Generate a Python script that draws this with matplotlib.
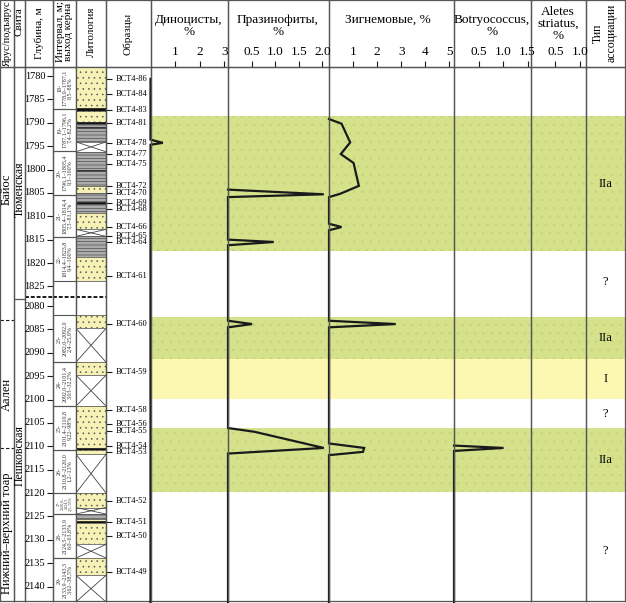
import numpy as np
import matplotlib
matplotlib.use("Agg")
import matplotlib.pyplot as plt
from matplotlib.patches import Rectangle

plt.rcParams['font.family'] = ['Liberation Serif', 'DejaVu Serif']
plt.rcParams['hatch.linewidth'] = 0.4

# ---- data ----
depth_ticks = [1780, 1785, 1790, 1795, 1800, 1805, 1810, 1815, 1820, 1825,
               2080, 2085, 2090, 2095, 2100, 2105, 2110, 2115, 2120, 2125,
               2130, 2135, 2140]

sample_names = ["ВСТ4-86", "ВСТ4-84", "ВСТ4-83", "ВСТ4-81", "ВСТ4-78", "ВСТ4-77",
                "ВСТ4-75", "ВСТ4-72", "ВСТ4-70", "ВСТ4-69", "ВСТ4-68", "ВСТ4-66",
                "ВСТ4-65", "ВСТ4-64", "ВСТ4-61", "ВСТ4-60", "ВСТ4-59", "ВСТ4-58",
                "ВСТ4-56", "ВСТ4-55", "ВСТ4-54", "ВСТ4-53", "ВСТ4-52", "ВСТ4-51",
                "ВСТ4-50", "ВСТ4-49"]
sample_depths = [1780.6, 1783.8, 1787.2, 1790.0, 1794.3, 1796.6, 1798.8, 1803.5,
                 1805.0, 1807.1, 1808.4, 1812.4, 1814.3, 1815.6, 1822.7, 2083.9,
                 2094.2, 2102.3, 2105.3, 2106.8, 2110.0, 2111.3, 2121.7, 2126.1,
                 2129.1, 2136.8]

int_tops = [1778.0, 1787.1, 1796.1, 1805.4, 1814.4, 2082.0, 2092.0, 2101.4,
            2110.8, 2120.0, 2124.5, 2133.9]
int_bots = [1787.1, 1796.1, 1805.4, 1814.4, 1823.8, 2092.0, 2101.4, 2110.8,
            2120.0, 2124.5, 2133.9, 2143.3]
int_labels = ["18-\n1778,0–1787,1\n8,5–88%", "19-\n1787,1–1796,1\n7,4–82,2%",
              "20-\n1796,1–1805,4\n9,3–100%", "21-\n1805,4–1814,4\n7,3–81,1%",
              "22-\n1814,4–1823,8\n9,4–100%", "23-\n2082,0–2092,0\n2,4–25,9%",
              "24-\n2092,0–2101,4\n3,03–32,2%", "25-\n2101,4–2110,8\n9,22–98%",
              "26-\n2110,8–2120,0\n1,2–13%", "27-\n2120,0–\n2124,5\n2,5–56%",
              "28-\n2124,5–2133,9\n6,0–63,8%", "29-\n2133,9–2143,3\n3,62–38,5%"]

lith_tops = [1778.0, 1786.8, 1787.4, 1789.8, 1790.3, 1790.8, 1791.1, 1794.1,
             1796.2, 1800.0, 1800.4, 1803.6, 1805.0, 1807.0, 1807.3, 1809.2,
             1812.8, 1814.3, 1818.8,
             2082.0, 2084.8, 2092.0, 2094.8, 2101.4, 2110.3, 2110.8, 2111.7,
             2120.0, 2123.1, 2124.5, 2125.5, 2126.0, 2126.5, 2131.0, 2133.9, 2137.6]
lith_bots = lith_tops[1:19] + [1823.8] + lith_tops[20:] + [2143.3]
lith_kinds = ["sand", "coal", "sand", "coal", "silt", "coal", "silt", "nocore",
              "silt", "coal", "silt", "sand", "silt", "coal", "silt", "sand",
              "nocore", "silt", "sand",
              "sand", "nocore", "sand", "nocore", "sand", "coal", "sand", "nocore",
              "sand", "nocore", "silt", "sand", "coal", "sand", "nocore", "sand", "nocore"]

dino_d = [1780.6, 1793.6, 1794.3, 1794.7, 2143.3]
dino_v = [0, 0, 0.5, 0, 0]
pras_d = [1804.3, 1805.3, 1805.9, 1815.0, 1815.5, 1816.2, 2083.15, 2083.86,
          2084.56, 2106.1, 2106.9, 2110.36, 2111.56, 2143.3]
pras_v = [0, 2.03, 0, 0, 0.97, 0, 0, 0.51, 0, 0, 0.56, 2.03, 0, 0]
zyg_d = [1789.2, 1790.2, 1794.2, 1796.7, 1798.6, 1803.5, 1805.2, 1805.9, 1811.6,
         1812.3, 1813.0, 2083.15, 2083.86, 2084.56, 2109.4, 2110.36, 2111.2,
         2111.9, 2143.3]
zyg_v = [0, 0.52, 0.88, 0.49, 1.02, 1.24, 0.46, 0, 0, 0.52, 0, 0, 2.77, 0, 0,
         1.46, 1.41, 0, 0]
botr_d = [2109.85, 2110.36, 2111.0, 2143.3]
botr_v = [0, 1.01, 0, 0]
alet_d = []
alet_v = []

zone_tops = [1788.5, 2082.3, 2091.4, 2106.1]
zone_bots = [1817.5, 2091.4, 2099.9, 2119.8]
zone_kinds = ["IIa", "IIa", "I", "IIa"]
type_labels = ["IIa", "?", "IIa", "I", "?", "IIa", "?"]
type_depths = [1803.0, 1824.0, 2086.9, 2095.7, 2103.0, 2113.0, 2132.5]

stage_names = ["Байос", "Аален", "Нижний–верхний тоар"]
stage_mid = [1804.3, 2098.9, 2128.6]
stage_bounds = [2083.0, 2110.4]
suite_names = ["Тюменская", "Пешковская"]
suite_mid = [1804.3, 2112.0]

# ---- layout ----
W, H = 626, 603
TOP, BOT = 67, 601
OFFSET = 250.8
P_TOP, P_BOT = 1778.07, 1892.3
BREAK = 1827.3
LINE = '#555555'
INK = '#1a1a1a'


def to_p(d):
    d = np.asarray(d, float)
    return np.where(d > 1950, d - OFFSET, d)


fig = plt.figure(figsize=(W / 100, H / 100), dpi=100)


def frame(ax):
    ax.set_xticks([])
    ax.set_yticks([])
    for s in ax.spines.values():
        s.set_color(LINE)
        s.set_linewidth(0.9)


def body_ax(x0, x1, xlim=(0, 1), z=1):
    ax = fig.add_axes([x0 / W, 1 - BOT / H, (x1 - x0) / W, (BOT - TOP) / H], zorder=z)
    ax.set_xlim(*xlim)
    ax.set_ylim(P_BOT, P_TOP)
    ax.patch.set_alpha(0)
    frame(ax)
    return ax


def head_ax(x0, x1):
    ax = fig.add_axes([x0 / W, 1 - TOP / H, (x1 - x0) / W, TOP / H], zorder=0)
    ax.patch.set_alpha(0)
    frame(ax)
    return ax


def htext(x, y, s, **kw):
    kw.setdefault('fontsize', 8)
    fig.text(x / W, 1 - y / H, s, ha='center', va='center', **kw)


# background bands under curve columns and type column
bg = fig.add_axes([150.5 / W, 1 - BOT / H, (625 - 150.5) / W, (BOT - TOP) / H], zorder=0)
bg.set_ylim(P_BOT, P_TOP)
bg.set_xlim(0, 1)
bg.axis('off')
for t, b, k in zip(zone_tops, zone_bots, zone_kinds):
    if k == "IIa":
        bg.axhspan(to_p(t), to_p(b), facecolor='#d5e28b', edgecolor='#c4d27a',
                   hatch='..', lw=0)
    else:
        bg.axhspan(to_p(t), to_p(b), facecolor='#fdf8b1', lw=0)

# header cells
edges = [0, 14, 25, 53, 76, 106, 150.5, 228, 329, 454, 531, 586, 625]
for a, b in zip(edges[:-1], edges[1:]):
    head_ax(a, b)

htext(7, 33, "Ярус/подъярус", rotation=90, fontsize=7.5)
htext(19.5, 22, "Свита", rotation=90)
htext(39, 33, "Глубина, м", rotation=90)
htext(64.5, 32, "Интервал, м;\nвыход керна", rotation=90, linespacing=0.95)
htext(91, 32, "Литология", rotation=90)
htext(128, 34, "Образцы", rotation=90)
htext(189, 26, "Диноцисты,\n%", fontsize=9.5, linespacing=1.1)
htext(278, 26, "Празинофиты,\n%", fontsize=9.5, linespacing=1.1)
htext(388, 20, "Зигнемовые, %", fontsize=9.5)
htext(492, 26, "Botryococcus,\n%", fontsize=9.5, linespacing=1.1)
htext(558, 24, "Aletes\nstriatus,\n%", fontsize=9.5, linespacing=1.0)
htext(605, 33, "Тип\nассоциации", rotation=90, fontsize=8.5)

# stage column
ax = body_ax(0, 14)
for n, m in zip(stage_names, stage_mid):
    ax.text(0.5, to_p(m), n, rotation=90, ha='center', va='center', fontsize=9)
for s in stage_bounds:
    ax.axhline(to_p(s), color=INK, lw=0.8, ls=(0, (3, 2)))

# suite column
ax = body_ax(14, 25)
for n, m in zip(suite_names, suite_mid):
    ax.text(0.5, to_p(m), n, rotation=90, ha='center', va='center', fontsize=8.5)
ax.axhline(BREAK + 0.4, color=LINE, lw=0.9)

# depth column
ax = body_ax(25, 53)
pt = to_p(depth_ticks)
ax.hlines(pt, 0.79, 1.0, color=INK, lw=0.8)
for d, p in zip(depth_ticks, pt):
    ax.text(0.72, p, str(d), ha='right', va='center', fontsize=7.5)
ax.axhline(BREAK, color=INK, lw=1.4, ls=(0, (2, 1)))

# interval column
ax = body_ax(53, 76)
for t, b, s in zip(int_tops, int_bots, int_labels):
    ax.hlines([to_p(t), to_p(b)], 0, 1, color=LINE, lw=0.8)
    fs = 3.0 if b - t < 6 else 4.3
    ax.text(0.5, (to_p(t) + to_p(b)) / 2, s, rotation=90, ha='center', va='center',
            fontsize=fs, linespacing=0.95, color='#333333')
ax.axhline(BREAK, color=INK, lw=1.4, ls=(0, (2, 1)))

# lithology column
ax = body_ax(76, 106)
styles = {"sand": dict(facecolor='#f6f1b4', edgecolor='#555555', hatch='...'),
          "silt": dict(facecolor='#ababab', edgecolor='#3a3a3a', hatch='-----'),
          "coal": dict(facecolor='#111111', edgecolor='#111111'),
          "nocore": dict(facecolor='white', edgecolor='white')}
for t, b, k in zip(lith_tops, lith_bots, lith_kinds):
    pt_, pb_ = float(to_p(t)), float(to_p(b))
    ax.add_patch(Rectangle((0, pt_), 1, pb_ - pt_, lw=0, **styles[k]))
    ax.add_patch(Rectangle((0, pt_), 1, pb_ - pt_, fill=False, edgecolor='#444444', lw=0.5))
    if k == "nocore":
        ax.plot([0, 1], [pt_, pb_], color='#444444', lw=0.6)
        ax.plot([0, 1], [pb_, pt_], color='#444444', lw=0.6)
ax.axhline(BREAK, color=INK, lw=1.4, ls=(0, (2, 1)))

# samples column
ax = body_ax(106, 150.5)
ps = to_p(sample_depths)
ax.hlines(ps, 0, 0.14, color=INK, lw=0.8)
for n, p in zip(sample_names, ps):
    ax.text(0.22, p, n, ha='left', va='center', fontsize=6.0)

# curve columns
curves = [
    (150.5, 228, (0, 3.15), [1, 2, 3], ["1", "2", "3"], dino_d, dino_v),
    (228, 329, (0, 2.14), [0.5, 1.0, 1.5, 2.0], ["0.5", "1.0", "1.5", "2.0"], pras_d, pras_v),
    (329, 454, (0, 5.19), [1, 2, 3, 4, 5], ["1", "2", "3", "4", "5"], zyg_d, zyg_v),
    (454, 531, (0, 1.57), [0.5, 1.0, 1.5], ["0.5", "1.0", "1.5"], botr_d, botr_v),
    (531, 586, (0, 1.13), [0.5, 1.0], ["0.5", "1.0"], alet_d, alet_v),
]
for x0, x1, xl, tk, tl, dd, vv in curves:
    ax = body_ax(x0, x1, xl, z=2)
    ax.xaxis.tick_top()
    ax.set_xticks(tk)
    ax.set_xticklabels(tl)
    ax.tick_params(axis='x', direction='out', length=4, width=0.8, pad=2.5,
                   labelsize=9.5, color=INK)
    if dd:
        ax.plot(vv, to_p(dd), color=INK, lw=1.6, solid_joinstyle='miter', clip_on=False)

# association type column
ax = body_ax(586, 625, z=2)
for s, d in zip(type_labels, type_depths):
    ax.text(0.5, to_p(d), s, ha='center', va='center', fontsize=9)

fig.savefig("out.png", dpi=100)
